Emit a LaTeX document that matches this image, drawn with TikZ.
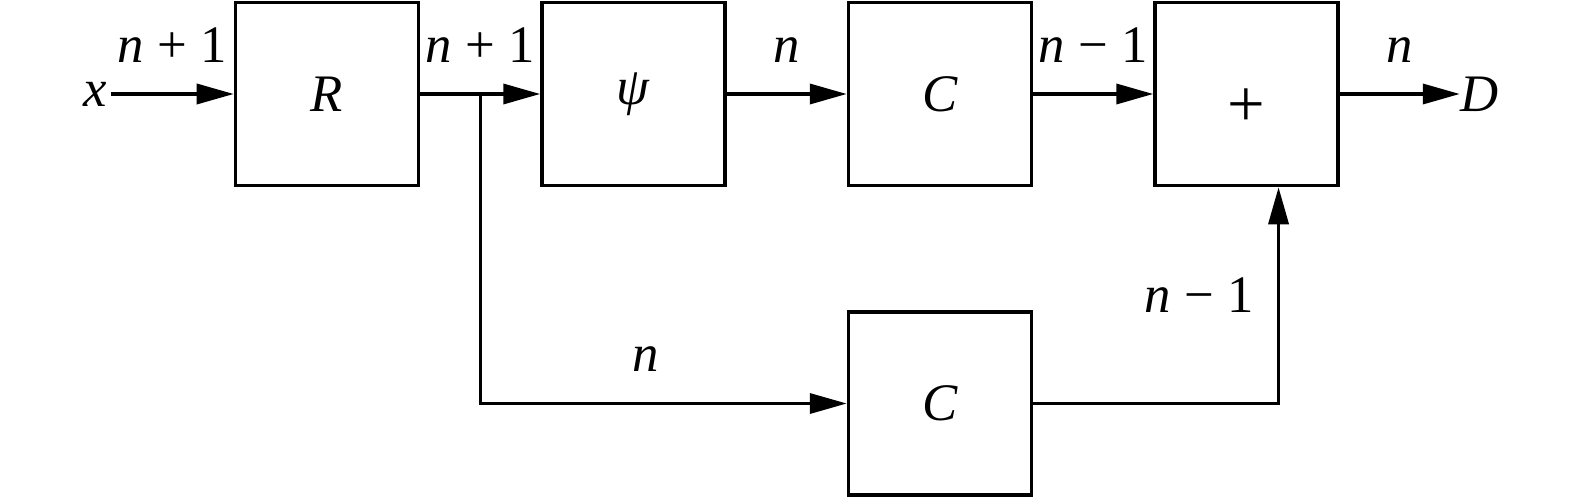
\documentclass[tikz,border=0pt]{standalone}
\usepackage{fontspec}
\setmainfont{Liberation Serif}
\usetikzlibrary{arrows.meta,positioning,calc}
\tikzset{
  post/.style={->,>={Triangle[length=3.7mm,width=2mm]},line width=1pt},
}

\begin{document}
\begin{tikzpicture}[
    node distance=1.2cm,
    block/.style={draw,line width=1pt,minimum size=1.83cm,inner sep=0pt,
      font=\fontsize{15}{18}\selectfont},
    signal/.style={inner sep=1pt,font=\fontsize{15}{18}\selectfont\itshape},
    lbl/.style={inner sep=0pt,font=\fontsize{15}{18}\selectfont},]
  \useasboundingbox (0,0) rectangle (15.75,4.96);
  \node[block] (R) at (3.27,4.02) {\textit{R}};
  \node[block,right=of R] (psi) {\textit{ψ}};
  \node[block,right=of psi] (C1) {\textit{C}};
  \node[block,right=of C1] (sum) {\raisebox{-3.3mm}[0pt][0pt]{\fontsize{19}{22}\selectfont+}};
  \node[block,below=1.23cm of C1] (C2) {\textit{C}};
  \node[signal,left=1.23cm of R] (in) {x};
  \node[signal,right=of sum,inner sep=0pt] (out) {D};

  \coordinate (split) at ($(R.east)!0.5!(psi.west)$);

  \draw[post] (in) -- (R) node[lbl,midway,above=3mm] {\textit{n} + 1};
  \draw[post] (R) -- (psi) node[lbl,midway,above=3mm] {\textit{n} + 1};
  \draw[post] (psi) -- (C1) node[lbl,midway,above=3mm] {\textit{n}};
  \draw[post] (C1) -- (sum) node[lbl,midway,above=3mm] {\textit{n} − 1};
  \draw[post] (sum) -- (out) node[lbl,midway,above=3mm] {\textit{n}};

  \draw[post] (split) |- (C2.west) node[lbl,pos=0.725,above=3mm] {\textit{n}};
  \draw[post] (C2.east) -| ([xshift=3.2mm]sum.south)
    node[lbl,pos=0.75,left=2.3mm] {\textit{n} − 1};
\end{tikzpicture}
\end{document}
